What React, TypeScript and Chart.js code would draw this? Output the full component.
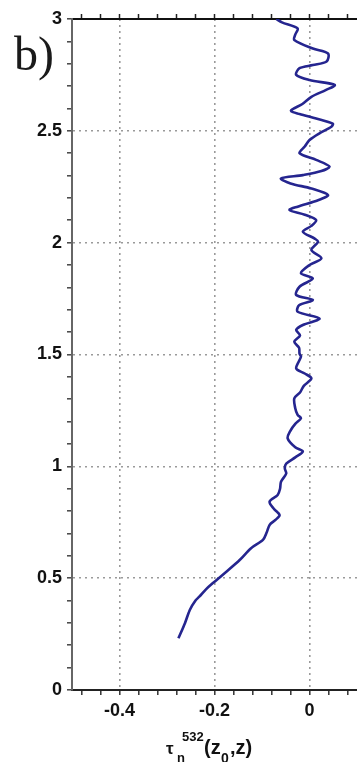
import React, { useEffect, useRef } from "react";
import { Chart, registerables } from "chart.js";

Chart.register(...registerables);

// Height z (km) and optical depth tau_n^532(z0, z)
const heights = [
  0.231, 0.3, 0.358, 0.4, 0.417, 0.45, 0.477, 0.529, 0.581, 0.634, 0.671, 0.705,
  0.738, 0.76, 0.782, 0.81, 0.842, 0.872, 0.9, 0.931, 0.968, 0.991, 1.012, 1.04,
  1.066, 1.085, 1.125, 1.16, 1.19, 1.215, 1.23, 1.26, 1.304, 1.33, 1.36, 1.393,
  1.415, 1.438, 1.49, 1.504, 1.53, 1.557, 1.585, 1.61, 1.632, 1.661, 1.691, 1.72,
  1.744, 1.766, 1.803, 1.84, 1.863, 1.9, 1.93, 1.967, 2.004, 2.018, 2.049, 2.075,
  2.101, 2.125, 2.146, 2.161, 2.19, 2.213, 2.242, 2.265, 2.287, 2.302, 2.32, 2.34,
  2.37, 2.4, 2.43, 2.459, 2.489, 2.518, 2.532, 2.555, 2.575, 2.59, 2.62, 2.652,
  2.683, 2.705, 2.727, 2.75, 2.78, 2.794, 2.81, 2.846, 2.868, 2.906, 2.93, 2.958,
  2.985, 3.0,
];
const tau532 = [
  -0.276, -0.262, -0.252, -0.24, -0.232, -0.218, -0.204, -0.175, -0.147, -0.123, -0.098, -0.09,
  -0.084, -0.072, -0.063, -0.075, -0.084, -0.067, -0.062, -0.06, -0.049, -0.052, -0.049, -0.03,
  -0.014, -0.03, -0.046, -0.04, -0.03, -0.018, -0.025, -0.03, -0.032, -0.02, -0.012, 0.004,
  -0.01, -0.028, -0.018, -0.021, -0.022, -0.032, -0.02, -0.028, -0.014, 0.021, -0.025, -0.022,
  0.007, -0.028, -0.021, 0.007, -0.018, 0.0, 0.025, 0.004, 0.018, 0.011, -0.014, 0.004,
  0.014, -0.01, -0.042, -0.025, 0.018, 0.039, 0.004, -0.04, -0.06, -0.014, 0.025, 0.042,
  0.014, -0.021, -0.01, 0.0, 0.021, 0.046, 0.049, 0.014, -0.021, -0.039, -0.015, 0.004,
  0.035, 0.053, 0.0, -0.028, -0.021, 0.007, 0.036, 0.039, 0.007, -0.032, -0.03, -0.025,
  -0.058, -0.07,
];

const xMajorTicks = [-0.4, -0.2, 0];
const yMajorTicks = [0, 0.5, 1, 1.5, 2, 2.5, 3];
const xMin = -0.5;
const xMax = 0.1;
const yMin = 0;
const yMax = 3;
const xMinorStep = 0.04;
const yMinorStep = 0.1;

function minorTicks(min: number, max: number, step: number) {
  const out: number[] = [];
  for (let i = Math.ceil(min / step - 1e-9); i * step <= max + 1e-9; i++) {
    out.push(+(i * step).toFixed(4));
  }
  return out;
}
const isMajor = (v: number, majors: number[]) => majors.some((m) => Math.abs(m - v) < 1e-6);
const fmt = (v: number) => String(+v.toFixed(2));

export default function App() {
  const ref = useRef<HTMLCanvasElement | null>(null);

  useEffect(() => {
    const canvas = ref.current;
    if (!canvas) return;
    const xTicks = minorTicks(xMin, xMax, xMinorStep);
    const yTicks = minorTicks(yMin, yMax, yMinorStep);
    const font = { family: "'Liberation Sans', Arial, sans-serif", size: 18, weight: "bold" as const };

    const chart = new Chart(canvas, {
      type: "scatter",
      data: {
        datasets: [
          {
            data: heights.map((h, i) => ({ x: tau532[i], y: h })),
            showLine: true,
            borderColor: "#25258f",
            borderWidth: 2.6,
            pointRadius: 0,
            tension: 0.3,
            xAxisID: "x",
            yAxisID: "y",
          },
        ],
      },
      options: {
        animation: false,
        responsive: false,
        devicePixelRatio: 1,
        layout: { padding: 0 },
        plugins: { legend: { display: false }, tooltip: { enabled: false } },
        scales: {
          x: {
            type: "linear",
            position: "bottom",
            min: xMin,
            max: xMax,
            afterBuildTicks: (s: any) => {
              s.ticks = xTicks.map((v) => ({ value: v }));
            },
            afterFit: (s: any) => {
              s.height = 72;
            },
            ticks: {
              autoSkip: false,
              maxRotation: 0,
              padding: 5,
              color: "#111",
              font,
              callback: (v: any) => (isMajor(+v, xMajorTicks) ? fmt(+v) : ""),
            },
            grid: {
              color: (c: any) => (c.tick && isMajor(c.tick.value, xMajorTicks) ? "#9a9a9a" : "rgba(0,0,0,0)"),
              lineWidth: 1.6,
              tickColor: "#333",
              tickLength: 5,
              tickWidth: 1.5,
            },
            border: { display: true, color: "#222", width: 2, dash: [2, 4] },
          },
          xTop: {
            type: "linear",
            position: "top",
            min: xMin,
            max: xMax,
            afterBuildTicks: (s: any) => {
              s.ticks = xTicks.map((v) => ({ value: v }));
            },
            afterFit: (s: any) => {
              s.height = 19;
            },
            ticks: { display: false },
            grid: {
              drawOnChartArea: false,
              tickColor: "#222",
              tickLength: 5,
              tickWidth: 1.5,
            },
            border: { display: true, color: "#111", width: 2 },
          },
          y: {
            type: "linear",
            position: "left",
            min: yMin,
            max: yMax,
            afterBuildTicks: (s: any) => {
              s.ticks = yTicks.map((v) => ({ value: v }));
            },
            afterFit: (s: any) => {
              s.width = 72;
            },
            ticks: {
              autoSkip: false,
              padding: 5,
              color: "#111",
              font,
              callback: (v: any) => (isMajor(+v, yMajorTicks) ? fmt(+v) : ""),
            },
            grid: {
              color: (c: any) => (c.tick && isMajor(c.tick.value, yMajorTicks) ? "#9a9a9a" : "rgba(0,0,0,0)"),
              lineWidth: 1.6,
              tickColor: "#444",
              tickLength: 5,
              tickWidth: 1.5,
            },
            border: { display: true, color: "#666", width: 2, dash: [2, 4] },
          },
        },
      },
    });
    return () => chart.destroy();
  }, []);

  const sans = "'Liberation Sans', Arial, sans-serif";
  const abs = (left: number, top: number, size: number): React.CSSProperties => ({
    position: "absolute",
    left,
    top,
    fontSize: size,
    lineHeight: 1,
    fontFamily: sans,
    fontWeight: "bold",
    color: "#111",
    whiteSpace: "nowrap",
  });

  return (
    <div style={{ position: "absolute", left: 0, top: 0, width: 357, height: 762, overflow: "hidden", background: "#fff" }}>
      <canvas ref={ref} width={357} height={762} style={{ display: "block", width: 357, height: 762 }} />
      <div
        style={{
          position: "absolute",
          left: 14,
          top: 30,
          fontFamily: "'Liberation Serif', 'Times New Roman', serif",
          fontSize: 48,
          lineHeight: 1,
          color: "#1a1a1a",
        }}
      >
        b)
      </div>
      <span style={abs(166, 740, 17)}>τ</span>
      <span style={abs(177, 751, 13)}>n</span>
      <span style={abs(182, 730, 13)}>532</span>
      <span style={abs(204, 737, 20)}>(z</span>
      <span style={abs(221, 751, 14)}>0</span>
      <span style={abs(230, 737, 20)}>,z)</span>
    </div>
  );
}
